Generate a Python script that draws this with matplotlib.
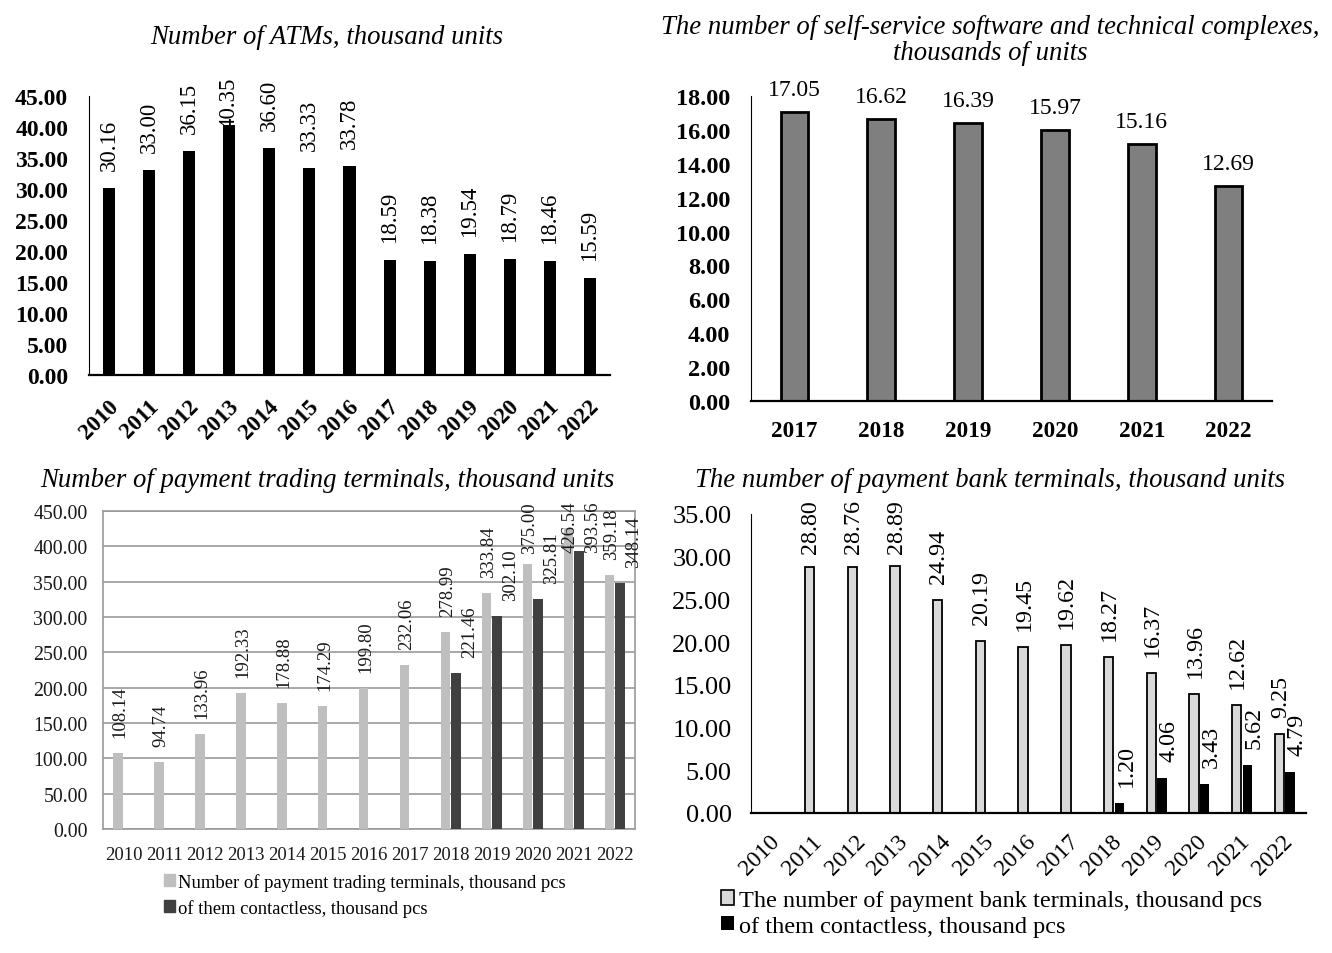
import numpy as np
import matplotlib
matplotlib.use('Agg')
import matplotlib.pyplot as plt
from matplotlib.patches import Patch

plt.rcParams['font.family'] = ['Liberation Serif', 'DejaVu Serif']

# ATMs, thousand units
atm_years = list(range(2010, 2023))
atm_values = [30.16, 33.00, 36.15, 40.35, 36.60, 33.33, 33.78,
              18.59, 18.38, 19.54, 18.79, 18.46, 15.59]

# self-service complexes, thousand units
kiosk_years = list(range(2017, 2023))
kiosk_values = [17.05, 16.62, 16.39, 15.97, 15.16, 12.69]

# payment trading terminals, thousand units
years = list(range(2010, 2023))
trade_total = [108.14, 94.74, 133.96, 192.33, 178.88, 174.29, 199.80,
               232.06, 278.99, 333.84, 375.00, 426.54, 359.18]
trade_contactless = [None] * 8 + [221.46, 302.10, 325.81, 393.56, 348.14]

# payment bank terminals, thousand units
bank_total = [None, 28.80, 28.76, 28.89, 24.94, 20.19, 19.45,
              19.62, 18.27, 16.37, 13.96, 12.62, 9.25]
bank_contactless = [None] * 8 + [1.20, 4.06, 3.43, 5.62, 4.79]

W, H = 1332, 954
TITLE = 19.3
fig = plt.figure(figsize=(W / 100, H / 100), dpi=100)


def panel(left, top, right, bottom):
    return fig.add_axes([left / W, 1 - bottom / H, (right - left) / W, (bottom - top) / H])


labels = []  # (text, top limit in pixels from the top edge)


def add_labels(ax, xs, vals, size, pad, rotation, limit, dx=0, color='black'):
    made = []
    for x, v in zip(xs, vals):
        if v is None:
            made.append(None)
            continue
        t = ax.annotate(f'{v:.2f}', (x, v), xytext=(dx, pad), textcoords='offset pixels',
                        rotation=rotation, ha='center', va='bottom', fontsize=size,
                        color=color, annotation_clip=False)
        labels.append((t, limit))
        made.append(t)
    return made


def present(xs, vals):
    pairs = [(x, v) for x, v in zip(xs, vals) if v is not None]
    return [p[0] for p in pairs], [p[1] for p in pairs]


def axis_lines(ax):
    for side in ('top', 'right'):
        ax.spines[side].set_visible(False)
    ax.spines['left'].set_linewidth(0.8)
    ax.spines['bottom'].set_linewidth(1.6)
    ax.tick_params(length=0)


# --- top left: ATMs ---
ax1 = panel(89, 97, 610, 376)
x1 = np.arange(len(atm_years))
ax1.bar(x1, atm_values, width=0.3, color='black')
ax1.set_xlim(-0.5, len(atm_years) - 0.5)
ax1.set_ylim(0, 45)
ax1.set_yticks(np.arange(0, 46, 5))
ax1.set_yticklabels([f'{v:.2f}' for v in np.arange(0, 46, 5)], fontsize=17, fontweight='bold')
ax1.set_xticks(x1 + 0.15)
ax1.set_xticklabels(atm_years, fontsize=16.5, fontweight='bold', rotation=45,
                    ha='right', va='center', rotation_mode='anchor')
axis_lines(ax1)
ax1.tick_params(axis='y', pad=15)
ax1.tick_params(axis='x', pad=20)
add_labels(ax1, x1, atm_values, 16.5, 18, 90, 78)
fig.text(327 / W, 1 - 38 / H, 'Number of ATMs, thousand units', fontsize=TITLE,
         style='italic', ha='center', va='center')

# --- top right: self-service complexes ---
ax2 = panel(751, 97, 1272, 402)
x2 = np.arange(len(kiosk_years))
ax2.bar(x2, kiosk_values, width=0.32, color='#7f7f7f', edgecolor='black', linewidth=2)
ax2.set_xlim(-0.5, len(kiosk_years) - 0.5)
ax2.set_ylim(0, 18)
ax2.set_yticks(np.arange(0, 19, 2))
ax2.set_yticklabels([f'{v:.2f}' for v in np.arange(0, 19, 2)], fontsize=17.5, fontweight='bold')
ax2.set_xticks(x2)
ax2.set_xticklabels(kiosk_years, fontsize=16.7, fontweight='bold')
axis_lines(ax2)
ax2.tick_params(axis='y', pad=15)
ax2.tick_params(axis='x', pad=14)
add_labels(ax2, x2, kiosk_values, 17, 12, 0, 70)
fig.text(990 / W, 1 - 27 / H, 'The number of self-service software and technical complexes,',
         fontsize=TITLE, style='italic', ha='center', va='center')
fig.text(990 / W, 1 - 53 / H, 'thousands of units', fontsize=TITLE, style='italic',
         ha='center', va='center')

# --- bottom left: payment trading terminals ---
ax3 = panel(103, 512, 635, 830)
x3 = np.arange(len(years))
bw3 = 0.23
ax3.bar(x3 - 0.13, trade_total, width=bw3, color='#bfbfbf', zorder=3)
cx, cv = present(x3 + 0.13, trade_contactless)
ax3.bar(cx, cv, width=bw3, color='#404040', zorder=3)
ax3.set_xlim(-0.5, len(years) - 0.5)
ax3.set_ylim(0, 450)
ax3.set_yticks(np.arange(0, 451, 50))
ax3.set_yticklabels([f'{v:.2f}' for v in np.arange(0, 451, 50)], fontsize=14.3)
ax3.set_xticks(x3)
ax3.set_xticklabels(years, fontsize=13.5)
ax3.grid(axis='y', color='#9a9a9a', linewidth=1.2, zorder=0)
for s in ax3.spines.values():
    s.set_color('#9a9a9a')
    s.set_linewidth(1.2)
ax3.tick_params(length=0, colors='#1a1a1a')
ax3.tick_params(axis='y', pad=11)
ax3.tick_params(axis='x', pad=12)
trade_lbl_a = add_labels(ax3, x3 - 0.13, trade_total, 13.5, 16, 90, 502, dx=2, color='#1a1a1a')
trade_lbl_b = add_labels(ax3, x3 + 0.13, trade_contactless, 13.5, 16, 90, 502, dx=8,
                         color='#1a1a1a')
fig.text(327 / W, 1 - 481 / H, 'Number of payment trading terminals, thousand units',
         fontsize=TITLE, style='italic', ha='center', va='center')
fig.legend(handles=[Patch(color='#bfbfbf', label='Number of payment trading terminals, thousand pcs'),
                    Patch(color='#404040', label='of them contactless, thousand pcs')],
           loc='upper left', bbox_to_anchor=(164 / W, 1 - 874 / H), frameon=False,
           fontsize=13.4, handlelength=0.6, handleheight=0.6, handletextpad=0.15,
           labelspacing=0.42, borderpad=0, borderaxespad=0)

# --- bottom right: payment bank terminals ---
ax4 = panel(751, 515, 1306, 814)
x4 = np.arange(len(years))
bw4 = 0.22
gx, gv = present(x4 - 0.125, bank_total)
ax4.bar(gx, gv, width=bw4, color='#d9d9d9', edgecolor='black', linewidth=1.3)
kx, kv = present(x4 + 0.125, bank_contactless)
ax4.bar(kx, kv, width=bw4, color='black')
ax4.set_xlim(-0.5, len(years) - 0.5)
ax4.set_ylim(0, 35)
ax4.set_yticks(np.arange(0, 36, 5))
ax4.set_yticklabels([f'{v:.2f}' for v in np.arange(0, 36, 5)], fontsize=19)
ax4.set_xticks(x4 + 0.1)
ax4.set_xticklabels(years, fontsize=17, rotation=45, ha='right', va='center',
                    rotation_mode='anchor')
axis_lines(ax4)
ax4.tick_params(axis='y', pad=14)
ax4.tick_params(axis='x', pad=18)
add_labels(ax4, x4 - 0.125, bank_total, 17.3, 17, 90, 500, dx=1)
add_labels(ax4, x4 + 0.125, bank_contactless, 17.3, 17, 90, 500, dx=7)
fig.text(990 / W, 1 - 481 / H, 'The number of payment bank terminals, thousand units',
         fontsize=TITLE, style='italic', ha='center', va='center')
fig.legend(handles=[Patch(facecolor='#d9d9d9', edgecolor='black', linewidth=1.2,
                          label='The number of payment bank terminals, thousand pcs'),
                    Patch(facecolor='black', label='of them contactless, thousand pcs')],
           loc='upper left', bbox_to_anchor=(721 / W, 1 - 891 / H), frameon=False,
           fontsize=17.5, handlelength=0.53, handleheight=0.53, handletextpad=0.2,
           labelspacing=0.2, borderpad=0, borderaxespad=0)

# keep value labels inside the chart area
fig.canvas.draw()
renderer = fig.canvas.get_renderer()
for t, limit in labels:
    bb = t.get_window_extent(renderer)
    top = H - limit
    if bb.y1 > top:
        dx, dy = t.xyann
        t.xyann = (dx, dy - (bb.y1 - top))

# push a contactless label sideways when it crowds its neighbour
fig.canvas.draw()
for a, b in zip(trade_lbl_a, trade_lbl_b):
    if a is None or b is None:
        continue
    ba, bb = a.get_window_extent(renderer), b.get_window_extent(renderer)
    vertical = ba.y0 < bb.y1 and bb.y0 < ba.y1
    if vertical and bb.x0 < ba.x1 + 5:
        dx, dy = b.xyann
        b.xyann = (dx + (ba.x1 + 5 - bb.x0), dy)

fig.savefig('out.png', dpi=100)
